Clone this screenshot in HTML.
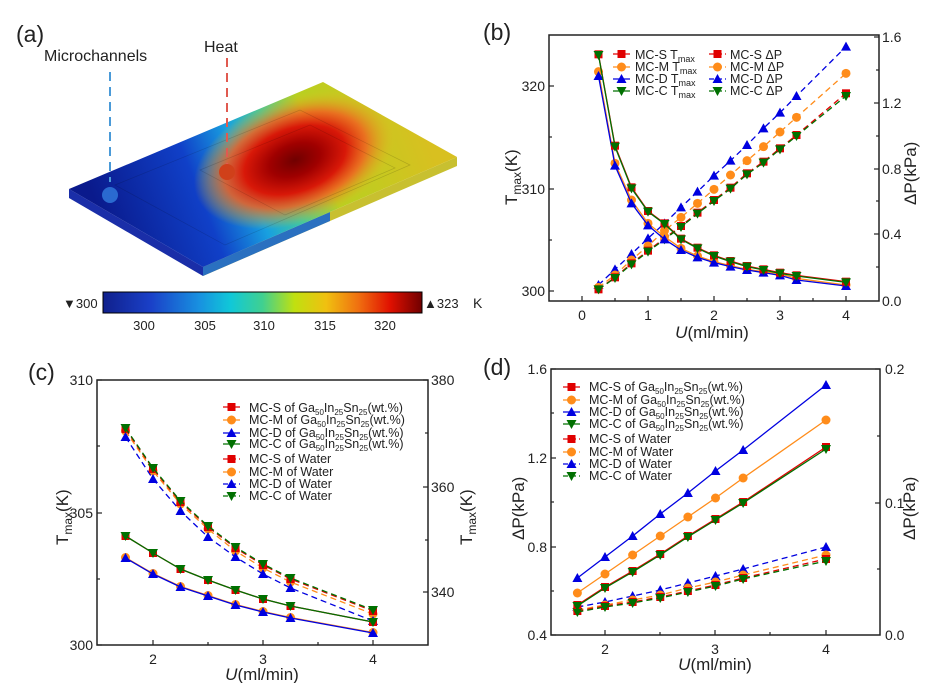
<!DOCTYPE html>
<html><head><meta charset="utf-8"><style>
html,body{margin:0;padding:0;background:#fff}
svg{display:block}
text{font-family:"Liberation Sans",Arial,sans-serif;fill:#222}
</style></head><body>
<svg id="s" width="944" height="683" viewBox="0 0 944 683" xmlns="http://www.w3.org/2000/svg">
<defs>
<linearGradient id="base" gradientUnits="userSpaceOnUse" x1="110" y1="240" x2="420" y2="120">
<stop offset="0" stop-color="#0a1a8c"/><stop offset="0.3" stop-color="#1040c8"/><stop offset="0.45" stop-color="#18a0e0"/><stop offset="0.56" stop-color="#40c8a0"/><stop offset="0.68" stop-color="#b8d020"/><stop offset="1" stop-color="#d8c020"/>
</linearGradient>
<radialGradient id="hot" gradientUnits="userSpaceOnUse" cx="295" cy="160" r="105" gradientTransform="translate(295 160) rotate(-20) scale(1 0.6) translate(-295 -160)">
<stop offset="0" stop-color="#700000"/><stop offset="0.25" stop-color="#a00000"/><stop offset="0.5" stop-color="#d81808"/><stop offset="0.7" stop-color="#f06020" stop-opacity="0.85"/><stop offset="1" stop-color="#e0c020" stop-opacity="0"/>
</radialGradient>
<linearGradient id="cb" x1="0" x2="1">
<stop offset="0" stop-color="#10208c"/><stop offset="0.15" stop-color="#1a40c8"/><stop offset="0.3" stop-color="#1890e0"/><stop offset="0.4" stop-color="#10c8d8"/><stop offset="0.5" stop-color="#40d090"/><stop offset="0.6" stop-color="#c0e010"/><stop offset="0.7" stop-color="#f0c010"/><stop offset="0.8" stop-color="#f07010"/><stop offset="0.9" stop-color="#e01000"/><stop offset="1" stop-color="#700000"/>
</linearGradient>
<clipPath id="top"><polygon points="69,189 323,82 457,157 203,267"/></clipPath>
</defs>
<!-- panel a -->
<text x="16" y="42" font-size="23">(a)</text>
<text x="44" y="61" font-size="16">Microchannels</text>
<text x="204" y="52" font-size="16">Heat</text>
<polygon points="69,189 203,267 203,276 69,198" fill="#1a2ea8"/>
<polygon points="203,267 457,157 457,166 203,276" fill="#c8c030"/>
<polygon points="203,267 330,212 330,221 203,276" fill="#2a70c0"/>
<polygon points="69,189 323,82 457,157 203,267" fill="url(#base)"/>
<ellipse cx="295" cy="160" rx="120" ry="80" fill="url(#hot)" clip-path="url(#top)"/>
<g stroke="#000" stroke-opacity="0.15" stroke-width="0.7" fill="none" clip-path="url(#top)">
<polygon points="115,185 300,110 410,165 225,245"/>
<polygon points="200,170 310,125 395,168 285,215"/>
</g>
<line x1="110" y1="72" x2="110" y2="182" stroke="#4a9ad8" stroke-width="2" stroke-dasharray="9,6"/>
<circle cx="110" cy="195" r="8" fill="#2a6ad0"/>
<line x1="227" y1="58" x2="227" y2="166" stroke="#e05a50" stroke-width="2" stroke-dasharray="9,6"/>
<circle cx="227" cy="172" r="8" fill="#d0401a"/>
<rect x="103" y="292" width="319" height="21" fill="url(#cb)" stroke="#000" stroke-width="1"/>
<text x="63" y="308" font-size="13">▼300</text>
<text x="424" y="308" font-size="13">▲323</text>
<text x="473" y="308" font-size="14">K</text>
<g font-size="13" text-anchor="middle"><text x="144" y="330">300</text><text x="205" y="330">305</text><text x="264" y="330">310</text><text x="325" y="330">315</text><text x="385" y="330">320</text></g>

<!-- panel b -->
<text x="483" y="40" font-size="23">(b)</text>
<rect x="549" y="35" width="330" height="266" fill="none" stroke="#222" stroke-width="1.5"/>
<g font-size="14" text-anchor="end" fill="#333"><text x="545" y="91">320</text><text x="545" y="194">310</text><text x="545" y="296">300</text></g>
<g font-size="14" fill="#333"><text x="882" y="42">1.6</text><text x="882" y="108">1.2</text><text x="882" y="174">0.8</text><text x="882" y="239">0.4</text><text x="882" y="306">0.0</text></g>
<g font-size="14" text-anchor="middle"><text x="582" y="320">0</text><text x="648" y="320">1</text><text x="714" y="320">2</text><text x="780" y="320">3</text><text x="846" y="320">4</text></g>
<text x="712" y="338" font-size="17" text-anchor="middle"><tspan font-style="italic">U</tspan>(ml/min)</text>
<text transform="translate(517 205) rotate(-90)" font-size="17">T<tspan font-size="12" dy="4">max</tspan><tspan dy="-4">(K)</tspan></text>
<text transform="translate(916 205) rotate(-90)" font-size="17">ΔP(kPa)</text>
<g font-size="12.5">
<text x="635" y="59">MC-S T<tspan font-size="9" dy="3">max</tspan></text>
<text x="635" y="71">MC-M T<tspan font-size="9" dy="3">max</tspan></text>
<text x="635" y="83">MC-D T<tspan font-size="9" dy="3">max</tspan></text>
<text x="635" y="95">MC-C T<tspan font-size="9" dy="3">max</tspan></text>
<text x="730" y="59">MC-S ΔP</text><text x="730" y="71">MC-M ΔP</text><text x="730" y="83">MC-D ΔP</text><text x="730" y="95">MC-C ΔP</text>
</g>

<!-- panel c -->
<text x="28" y="380" font-size="23">(c)</text>
<rect x="97" y="380" width="331" height="265" fill="none" stroke="#222" stroke-width="1.5"/>
<g font-size="14" text-anchor="end" fill="#333"><text x="93" y="385">310</text><text x="93" y="518">305</text><text x="93" y="650">300</text></g>
<g font-size="14" fill="#333"><text x="431" y="385">380</text><text x="431" y="492">360</text><text x="431" y="597">340</text></g>
<g font-size="14" text-anchor="middle"><text x="153" y="664">2</text><text x="263" y="664">3</text><text x="373" y="664">4</text></g>
<text x="262" y="680" font-size="17" text-anchor="middle"><tspan font-style="italic">U</tspan>(ml/min)</text>
<text transform="translate(68 545) rotate(-90)" font-size="17">T<tspan font-size="12" dy="4">max</tspan><tspan dy="-4">(K)</tspan></text>
<text transform="translate(472 545) rotate(-90)" font-size="17">T<tspan font-size="12" dy="4">max</tspan><tspan dy="-4">(K)</tspan></text>
<g font-size="12.5">
<text x="249" y="412">MC-S of Ga<tspan font-size="8" dy="3">50</tspan><tspan dy="-3">In</tspan><tspan font-size="8" dy="3">25</tspan><tspan dy="-3">Sn</tspan><tspan font-size="8" dy="3">25</tspan><tspan dy="-3">(wt.%)</tspan></text>
<text x="249" y="424">MC-M of Ga<tspan font-size="8" dy="3">50</tspan><tspan dy="-3">In</tspan><tspan font-size="8" dy="3">25</tspan><tspan dy="-3">Sn</tspan><tspan font-size="8" dy="3">25</tspan><tspan dy="-3">(wt.%)</tspan></text>
<text x="249" y="437">MC-D of Ga<tspan font-size="8" dy="3">50</tspan><tspan dy="-3">In</tspan><tspan font-size="8" dy="3">25</tspan><tspan dy="-3">Sn</tspan><tspan font-size="8" dy="3">25</tspan><tspan dy="-3">(wt.%)</tspan></text>
<text x="249" y="448">MC-C of Ga<tspan font-size="8" dy="3">50</tspan><tspan dy="-3">In</tspan><tspan font-size="8" dy="3">25</tspan><tspan dy="-3">Sn</tspan><tspan font-size="8" dy="3">25</tspan><tspan dy="-3">(wt.%)</tspan></text>
<text x="249" y="463">MC-S of Water</text><text x="249" y="476">MC-M of Water</text><text x="249" y="488">MC-D of Water</text><text x="249" y="500">MC-C of Water</text>
</g>

<!-- panel d -->
<text x="483" y="375" font-size="23">(d)</text>
<rect x="551" y="369" width="329" height="266" fill="none" stroke="#222" stroke-width="1.5"/>
<g font-size="14" text-anchor="end" fill="#333"><text x="547" y="374">1.6</text><text x="547" y="463">1.2</text><text x="547" y="552">0.8</text><text x="547" y="640">0.4</text></g>
<g font-size="14" fill="#333"><text x="885" y="374">0.2</text><text x="885" y="508">0.1</text><text x="885" y="640">0.0</text></g>
<g font-size="14" text-anchor="middle"><text x="605" y="654">2</text><text x="715" y="654">3</text><text x="826" y="654">4</text></g>
<text x="715" y="670" font-size="17" text-anchor="middle"><tspan font-style="italic">U</tspan>(ml/min)</text>
<text transform="translate(524 540) rotate(-90)" font-size="17">ΔP(kPa)</text>
<text transform="translate(915 540) rotate(-90)" font-size="17">ΔP(kPa)</text>
<g font-size="12.5">
<text x="589" y="391">MC-S of Ga<tspan font-size="8" dy="3">50</tspan><tspan dy="-3">In</tspan><tspan font-size="8" dy="3">25</tspan><tspan dy="-3">Sn</tspan><tspan font-size="8" dy="3">25</tspan><tspan dy="-3">(wt.%)</tspan></text>
<text x="589" y="404">MC-M of Ga<tspan font-size="8" dy="3">50</tspan><tspan dy="-3">In</tspan><tspan font-size="8" dy="3">25</tspan><tspan dy="-3">Sn</tspan><tspan font-size="8" dy="3">25</tspan><tspan dy="-3">(wt.%)</tspan></text>
<text x="589" y="416">MC-D of Ga<tspan font-size="8" dy="3">50</tspan><tspan dy="-3">In</tspan><tspan font-size="8" dy="3">25</tspan><tspan dy="-3">Sn</tspan><tspan font-size="8" dy="3">25</tspan><tspan dy="-3">(wt.%)</tspan></text>
<text x="589" y="428">MC-C of Ga<tspan font-size="8" dy="3">50</tspan><tspan dy="-3">In</tspan><tspan font-size="8" dy="3">25</tspan><tspan dy="-3">Sn</tspan><tspan font-size="8" dy="3">25</tspan><tspan dy="-3">(wt.%)</tspan></text>
<text x="589" y="443">MC-S of Water</text><text x="589" y="456">MC-M of Water</text><text x="589" y="468">MC-D of Water</text><text x="589" y="480">MC-C of Water</text>
</g>
<g id="g"></g>
</svg>
<script>
var NS="http://www.w3.org/2000/svg",G=document.getElementById("g");
var C={S:"#e00000",M:"#ff8c1a",D:"#0000e0",C:"#007000"};
function el(t,a){var e=document.createElementNS(NS,t);for(var k in a)e.setAttribute(k,a[k]);G.appendChild(e);return e;}
function mk(type,x,y,c){var r=4;
 if(type=="S")el("rect",{x:x-r,y:y-r,width:2*r,height:2*r,fill:c});
 else if(type=="M")el("circle",{cx:x,cy:y,r:r+0.5,fill:c});
 else if(type=="D")el("polygon",{points:(x-r-1)+","+(y+r)+" "+(x+r+1)+","+(y+r)+" "+x+","+(y-r-1),fill:c});
 else el("polygon",{points:(x-r-1)+","+(y-r)+" "+(x+r+1)+","+(y-r)+" "+x+","+(y+r+1),fill:c});}
function series(xs,ys,t,dash){var c=C[t],p=[];for(var i=0;i<xs.length;i++)p.push(xs[i]+","+ys[i]);
 var a={points:p.join(" "),fill:"none",stroke:c,"stroke-width":1.3};if(dash)a["stroke-dasharray"]="6,4";el("polyline",a);
 for(var i=0;i<xs.length;i++)mk(t,xs[i],ys[i],c);}
function leg(x1,x2,y,t,dash){var a={x1:x1,x2:x2,y1:y,y2:y,stroke:C[t],"stroke-width":1.3};if(dash)a["stroke-dasharray"]="5,3";el("line",a);mk(t,(x1+x2)/2,y,C[t]);}
function ticks(){
 var L=[];
 [582,615,648,681,714,747,780,813,846].forEach(function(x,i){L.push([x,301,x,i%2?298:296]);});
 [86,137,189,240,291].forEach(function(y,i){L.push([549,y,i%2?552:554,y]);});
 [37,70,103,136,169,201,234,267].forEach(function(y,i){L.push([879,y,i%2?876:874,y]);});
 [153,208,263,318,373].forEach(function(x,i){L.push([x,645,x,i%2?642:640]);});
 [380,446,513,579,645].forEach(function(y,i){L.push([97,y,i%2?100:102,y]);});
 [380,433,487,540,592].forEach(function(y,i){L.push([428,y,i%2?425:423,y]);});
 [605,660,715,770,826].forEach(function(x,i){L.push([x,635,x,i%2?632:630]);});
 [369,413,458,502,547,591,635].forEach(function(y,i){L.push([551,y,i%2?554:556,y]);});
 [369,436,503,569].forEach(function(y,i){L.push([880,y,i%2?877:875,y]);});
 L.forEach(function(l){el("line",{x1:l[0],y1:l[1],x2:l[2],y2:l[3],stroke:"#222","stroke-width":1.2});});}
ticks();
var bx=[];[0.25,0.5,0.75,1,1.25,1.5,1.75,2,2.25,2.5,2.75,3,3.25,4].forEach(function(u){bx.push(582+66*u);});
function d3(a){return a.map(function(v){return v/3;});}
var bTg=d3([165,440,565,635,672,718,745,768,785,800,810,820,828,847]);
var bTb=d3([228,497,610,676,718,750,772,788,800,810,818,826,840,858]);
var bTo=d3([215,490,600,670,710,745,768,785,797,808,815,822,835,855]);
var bTr=d3([163,437,562,633,670,716,743,766,783,798,808,818,826,845]);
var bPb=d3([855,808,762,715,670,622,575,527,482,435,385,338,288,140]);
var bPo=d3([862,825,780,738,692,652,610,568,525,482,440,396,352,220]);
var bPr=d3([868,832,790,752,715,678,638,600,563,520,485,445,405,280]);
var bPg=d3([868,834,793,755,718,681,641,603,566,523,488,448,408,288]);
series(bx,bPb,"D",1);series(bx,bPo,"M",1);series(bx,bPr,"S",1);series(bx,bPg,"C",1);
series(bx,bTo,"M");series(bx,bTb,"D");series(bx,bTr,"S");series(bx,bTg,"C");
[[54,"S"],[67,"M"],[79,"D"],[91,"C"]].forEach(function(r){leg(613,630,r[0],r[1]);leg(709,726,r[0],r[1],1);});
var cx=[1.75,2,2.25,2.5,2.75,3,3.25,4].map(function(u){return 153+110*(u-2);});
var cWr=[429,469,502,527,548,565,579,611],cWb=[437,479,511,537,557,574,588,621];
var cWo=[431,471,504,529,551,568,582,614],cWg=[428,468,501,526,547,564,578,610];
var cLg=[536,553,569,580,590,599,606,622],cLb=[558,574,587,596,605,612,618,633];
series(cx,cWo,"M",1);series(cx,cWb,"D",1);series(cx,cWr,"S",1);series(cx,cWg,"C",1);
series(cx,cLb.map(function(v){return v-0.5}),"M");series(cx,cLb,"D");series(cx,cLg,"S");series(cx,cLg,"C");
[[407,"S"],[420,"M"],[433,"D"],[444,"C"]].forEach(function(r){leg(223,240,r[0],r[1]);});
[[459,"S"],[472,"M"],[484,"D"],[496,"C"]].forEach(function(r){leg(223,240,r[0],r[1],1);});
var dx=[1.75,2,2.25,2.5,2.75,3,3.25,4].map(function(u){return 605+110.5*(u-2);});
series(dx,[607,602,596,590,583,576,569,547],"D",1);
series(dx,[610,605,600,595,588,582,575,555],"M",1);
series(dx,[611,606,602,597,591,585,578,559],"S",1);
series(dx,[612,607,603,598,592,586,579,561],"C",1);
series(dx,[578,557,536,514,493,471,450,385],"D");
series(dx,[593,574,555,536,517,498,478,420],"M");
series(dx,[605,587,571,554,536,519,502,447],"S");
series(dx,[606,588,572,555,537,520,503,449],"C");
[[387,"S"],[400,"M"],[412,"D"],[424,"C"]].forEach(function(r){leg(563,580,r[0],r[1]);});
[[439,"S"],[452,"M"],[464,"D"],[476,"C"]].forEach(function(r){leg(563,580,r[0],r[1],1);});
</script>
</body></html>
